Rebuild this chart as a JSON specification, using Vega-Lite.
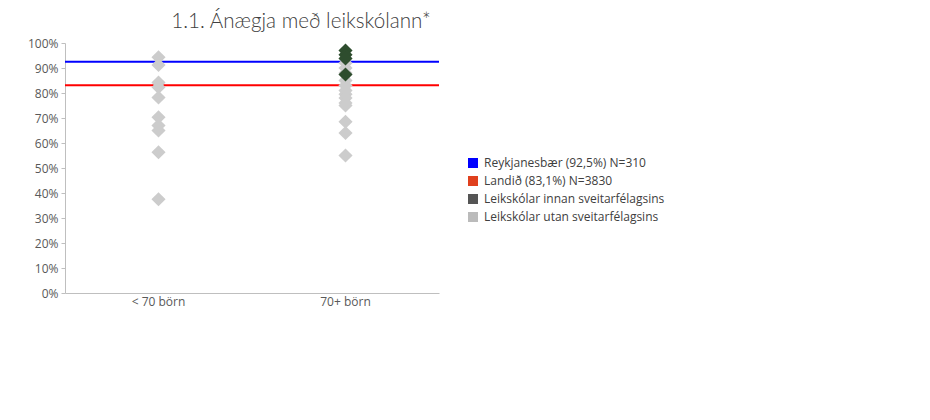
{
  "$schema": "https://vega.github.io/schema/vega-lite/v6.json",
  "width": 374,
  "height": 250,
  "autosize": "none",
  "padding": {"left": 65, "top": 43, "right": 491, "bottom": 127},
  "background": "white",
  "title": {
    "text": "1.1. Ánægja með leikskólann*",
    "font": "Lato",
    "fontSize": 20.6,
    "fontWeight": 300,
    "color": "#404040",
    "anchor": "middle",
    "dx": 49,
    "offset": 4
  },
  "config": {
    "font": "Open Sans",
    "view": {"stroke": null},
    "axisX": {
      "title": null,
      "labelAngle": 0,
      "ticks": false,
      "domainColor": "#bfbfbf",
      "labelColor": "#595959",
      "labelFont": "Open Sans",
      "labelFontSize": 12,
      "labelPadding": 3
    }
  },
  "datasets": {
    "lines": [
      {"series": "Reykjanesbær (92,5%) N=310", "value": 0.925},
      {"series": "Landið (83,1%) N=3830", "value": 0.831}
    ],
    "points": [
      {"size": "< 70 börn", "series": "Leikskólar utan sveitarfélagsins", "value": 0.943},
      {"size": "< 70 börn", "series": "Leikskólar utan sveitarfélagsins", "value": 0.912},
      {"size": "< 70 börn", "series": "Leikskólar utan sveitarfélagsins", "value": 0.842},
      {"size": "< 70 börn", "series": "Leikskólar utan sveitarfélagsins", "value": 0.823},
      {"size": "< 70 börn", "series": "Leikskólar utan sveitarfélagsins", "value": 0.782},
      {"size": "< 70 börn", "series": "Leikskólar utan sveitarfélagsins", "value": 0.703},
      {"size": "< 70 börn", "series": "Leikskólar utan sveitarfélagsins", "value": 0.67},
      {"size": "< 70 börn", "series": "Leikskólar utan sveitarfélagsins", "value": 0.65},
      {"size": "< 70 börn", "series": "Leikskólar utan sveitarfélagsins", "value": 0.563},
      {"size": "< 70 börn", "series": "Leikskólar utan sveitarfélagsins", "value": 0.375},
      {"size": "70+ börn", "series": "Leikskólar utan sveitarfélagsins", "value": 0.92},
      {"size": "70+ börn", "series": "Leikskólar utan sveitarfélagsins", "value": 0.9},
      {"size": "70+ börn", "series": "Leikskólar utan sveitarfélagsins", "value": 0.88},
      {"size": "70+ börn", "series": "Leikskólar utan sveitarfélagsins", "value": 0.85},
      {"size": "70+ börn", "series": "Leikskólar utan sveitarfélagsins", "value": 0.83},
      {"size": "70+ börn", "series": "Leikskólar utan sveitarfélagsins", "value": 0.81},
      {"size": "70+ börn", "series": "Leikskólar utan sveitarfélagsins", "value": 0.795},
      {"size": "70+ börn", "series": "Leikskólar utan sveitarfélagsins", "value": 0.78},
      {"size": "70+ börn", "series": "Leikskólar utan sveitarfélagsins", "value": 0.76},
      {"size": "70+ börn", "series": "Leikskólar utan sveitarfélagsins", "value": 0.75},
      {"size": "70+ börn", "series": "Leikskólar utan sveitarfélagsins", "value": 0.685},
      {"size": "70+ börn", "series": "Leikskólar utan sveitarfélagsins", "value": 0.64},
      {"size": "70+ börn", "series": "Leikskólar utan sveitarfélagsins", "value": 0.55},
      {"size": "70+ börn", "series": "Leikskólar innan sveitarfélagsins", "value": 0.97},
      {"size": "70+ börn", "series": "Leikskólar innan sveitarfélagsins", "value": 0.953},
      {"size": "70+ börn", "series": "Leikskólar innan sveitarfélagsins", "value": 0.938},
      {"size": "70+ börn", "series": "Leikskólar innan sveitarfélagsins", "value": 0.874}
    ]
  },
  "layer": [
    {
      "data": {"name": "lines"},
      "mark": {"type": "point", "filled": true, "opacity": 0},
      "encoding": {
        "y": {
          "field": "value",
          "type": "quantitative",
          "scale": {"domain": [0, 1]},
          "axis": {
            "format": ".0%",
            "values": [0, 0.1, 0.2, 0.3, 0.4, 0.5, 0.6, 0.7, 0.8, 0.9, 1],
            "tickCount": 20,
            "labelOverlap": false,
            "title": null,
            "grid": false,
            "domainColor": "#bfbfbf",
            "tickColor": "#bfbfbf",
            "tickSize": 4,
            "labelColor": "#595959",
            "labelFont": "Open Sans",
            "labelFontSize": 12,
            "labelPadding": 3
          }
        },
        "color": {
          "field": "series",
          "type": "nominal",
          "scale": {
            "domain": ["Reykjanesbær (92,5%) N=310", "Landið (83,1%) N=3830", "Leikskólar innan sveitarfélagsins", "Leikskólar utan sveitarfélagsins"],
            "range": ["#0000ff", "#e0401e", "#555555", "#bbbbbb"]
          },
          "legend": {
            "title": null,
            "orient": "none",
            "legendX": 402,
            "legendY": 114,
            "symbolType": "square",
            "symbolSize": 100,
            "symbolOpacity": 1,
            "symbolStrokeWidth": 0,
            "labelFont": "Open Sans",
            "labelFontSize": 12,
            "labelColor": "#404040",
            "labelOffset": 5,
            "rowPadding": 6,
            "labelLimit": 400
          }
        }
      }
    },
    {
      "data": {"name": "lines"},
      "mark": {"type": "rule", "strokeWidth": 2},
      "encoding": {
        "y": {
          "field": "value",
          "type": "quantitative",
          "axis": {
            "format": ".0%",
            "values": [0, 0.1, 0.2, 0.3, 0.4, 0.5, 0.6, 0.7, 0.8, 0.9, 1],
            "tickCount": 20,
            "labelOverlap": false,
            "title": null,
            "grid": false,
            "domainColor": "#bfbfbf",
            "tickColor": "#bfbfbf",
            "tickSize": 4,
            "labelColor": "#595959",
            "labelFont": "Open Sans",
            "labelFontSize": 12,
            "labelPadding": 3
          }
        },
        "stroke": {
          "condition": {"test": "datum.series === 'Landið (83,1%) N=3830'", "value": "#ff0000"},
          "value": "#0000ff"
        }
      }
    },
    {
      "data": {"name": "points"},
      "mark": {"type": "point", "shape": "diamond", "filled": true, "size": 200, "opacity": 1},
      "encoding": {
        "x": {
          "field": "size",
          "type": "nominal",
          "sort": ["< 70 börn", "70+ börn"],
          "scale": {"type": "band", "paddingInner": 0, "paddingOuter": 0}
        },
        "y": {
          "field": "value",
          "type": "quantitative",
          "axis": {
            "format": ".0%",
            "values": [0, 0.1, 0.2, 0.3, 0.4, 0.5, 0.6, 0.7, 0.8, 0.9, 1],
            "tickCount": 20,
            "labelOverlap": false,
            "title": null,
            "grid": false,
            "domainColor": "#bfbfbf",
            "tickColor": "#bfbfbf",
            "tickSize": 4,
            "labelColor": "#595959",
            "labelFont": "Open Sans",
            "labelFontSize": 12,
            "labelPadding": 3
          }
        },
        "fill": {
          "condition": {"test": "datum.series === 'Leikskólar innan sveitarfélagsins'", "value": "#2e4d2e"},
          "value": "#cccccc"
        }
      }
    }
  ]
}
